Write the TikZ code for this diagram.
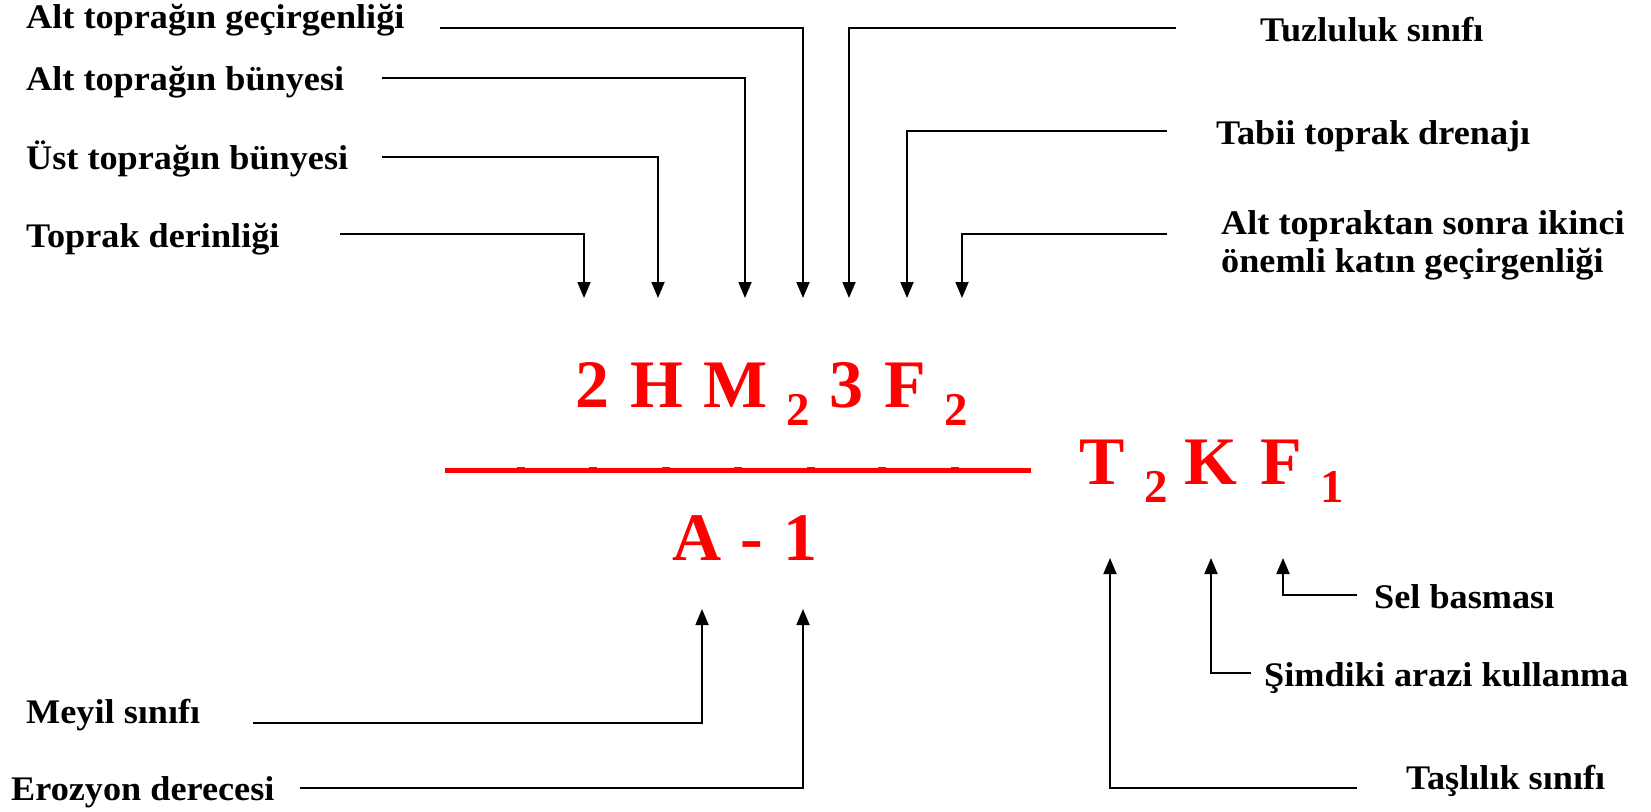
\documentclass[tikz,border=0pt]{standalone}
\usepackage{fontspec}
\setmainfont{Liberation Serif}
\newfontfamily\labfont{Liberation Serif}[FakeStretch=1.05]
\newfontfamily\redfont{Liberation Serif}
\usetikzlibrary{arrows.meta}
\newcommand\rsub[1]{\raisebox{-18pt}{\fontsize{47}{47}\selectfont #1}}
\newcommand\gl[2]{\makebox[#1pt][l]{#2}}
\tikzset{
  lab/.style={font={\labfont\bfseries\fontsize{34.5}{38}\selectfont}, anchor=base west, inner sep=0pt, align=left},
  conn/.style={line width=1.8pt, -{Triangle[length=16pt,width=13pt]}},
  redtxt/.style={text=red, font={\redfont\bfseries\fontsize{68}{68}\selectfont}, anchor=base west, inner sep=0pt},
  fracline/.style={draw=red, line width=5pt},
  tick/.style={fill=red}
}
\begin{document}
\begin{tikzpicture}[x=1pt,y=-1pt]
\fill[white] (0,0) rectangle (1651,811);
\useasboundingbox (0,0) rectangle (1651,811);

% labels top left
\node[lab] (l1) at (26,28) {Alt toprağın geçirgenliği};
\node[lab] (l2) at (26,90) {Alt toprağın bünyesi};
\node[lab] (l3) at (26,169) {Üst toprağın bünyesi};
\node[lab] (l4) at (26,247) {Toprak derinliği};
% labels top right
\node[lab] (r1) at (1260,41) {Tuzluluk sınıfı};
\node[lab] (r2) at (1216,144) {Tabii toprak drenajı};
\node[lab] (r3) at (1221,272) {Alt topraktan sonra ikinci\\önemli katın geçirgenliği};
% labels bottom
\node[lab] (b1) at (26,723) {Meyil sınıfı};
\node[lab] (b2) at (11,800) {Erozyon derecesi};
\node[lab] (b3) at (1374,608) {Sel basması};
\node[lab] (b4) at (1264,686) {Şimdiki arazi kullanma};
\node[lab] (b5) at (1406,789) {Taşlılık sınıfı};

% red formula
\node[redtxt] (num) at (575,407) {\gl{55}{2}\gl{73}{H}\gl{83}{M}\gl{43}{\rsub{2}}\gl{55}{3}\gl{60}{F}\rsub{2}};
\coordinate (fa) at (445,470);
\coordinate (fb) at (1031,470);
\draw[fracline] (fa) -- (fb);
\foreach \tx in {521,593,666,738,811,882,955}
  \fill[tick] (\tx-4,467) rectangle (\tx+4,473);
\node[redtxt] (den) at (672,560) {\gl{68}{A}\gl{43}{-}1};
\node[redtxt] (side) at (1079,484) {\gl{65}{T}\gl{40}{\rsub{2}}\gl{76}{K}\gl{60}{F}\rsub{1}};

% connector start points
\coordinate (s1) at (440,28);
\coordinate (s2) at (382,78);
\coordinate (s3) at (382,157);
\coordinate (s4) at (340,234);
\coordinate (s5) at (1176,28);
\coordinate (s6) at (1167,131);
\coordinate (s7) at (1167,234);
\coordinate (s8) at (253,723);
\coordinate (s9) at (300,788);
\coordinate (s10) at (1357,595);
\coordinate (s11) at (1251,673);
\coordinate (s12) at (1357,788);
% arrow tips
\coordinate (t1) at (803,298);
\coordinate (t2) at (745,298);
\coordinate (t3) at (658,298);
\coordinate (t4) at (584,298);
\coordinate (t5) at (849,298);
\coordinate (t6) at (907,298);
\coordinate (t7) at (962,298);
\coordinate (t8) at (702,609);
\coordinate (t9) at (803,609);
\coordinate (t10) at (1283,558);
\coordinate (t11) at (1211,558);
\coordinate (t12) at (1110,558);

\foreach \i in {1,...,12}
  \draw[conn] (s\i) -| (t\i);
\end{tikzpicture}
\end{document}
